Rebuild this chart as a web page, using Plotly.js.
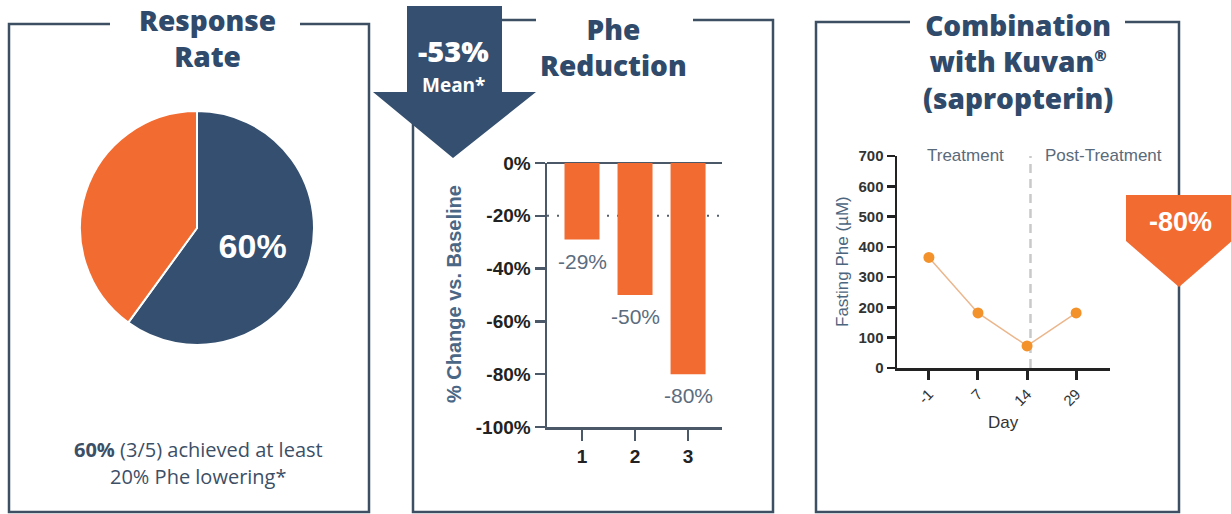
<!DOCTYPE html>
<html>
<head>
<meta charset="utf-8">
<script src="https://cdn.plot.ly/plotly-3.0.1.min.js"></script>
<style>html,body{margin:0;padding:0;background:#fff;}#chart{width:1231px;height:514px;}</style>
</head>
<body>
<div id="chart"></div>
<script>
// ---------- data ----------
const pieLabels = ['Achieved ≥20% Phe lowering', 'Did not achieve'];
const pieValues = [60, 40];
const pieText = ['60%', ''];

const barCategories = [1, 2, 3];
const barValues = [-29, -50, -80];
const barYTicks = [0, -20, -40, -60, -80, -100];
const barYTickText = ['0%', '-20%', '-40%', '-60%', '-80%', '-100%'];
const responseThreshold = -20;

const days = ['-1', '7', '14', '29'];
const fastingPhe = [365, 182, 73, 182];
const pheTicks = [0, 100, 200, 300, 400, 500, 600, 700];

// ---------- helpers ----------
const W = 1231, H = 514;
const fx = x => x / W;
const fy = y => 1 - y / H;
function pathOf(pts, close) {
  return pts.map((p, i) => (i ? 'L' : 'M') + fx(p[0]) + ',' + fy(p[1])).join(' ') + (close ? ' Z' : '');
}

const NAVY = '#344f6f';
const ORANGE = '#f26b31';
const TITLE = '#2f4a6a';
const BORDER = '#3d4f63';
const ARIAL = 'Liberation Sans, Arial, sans-serif';
const titleFont = {family: 'Open Sans, sans-serif', size: 28, color: TITLE, weight: 800};

function txt(x, y, text, font, extra) {
  return Object.assign({xref: 'paper', yref: 'paper', x: fx(x), y: fy(y), text: text,
    showarrow: false, xanchor: 'center', yanchor: 'middle', font: font}, extra || {});
}

// ---------- traces ----------
const pieTrace = {
  type: 'pie', labels: pieLabels, values: pieValues, text: pieText,
  textinfo: 'text', textposition: 'inside', insidetextorientation: 'horizontal',
  sort: false, direction: 'clockwise', rotation: 0,
  marker: {colors: [NAVY, ORANGE], line: {color: '#ffffff', width: 2}},
  textfont: {family: ARIAL, size: 34, color: '#ffffff', weight: 'bold'},
  domain: {x: [fx(197 - 117), fx(197 + 117)], y: [fy(345), fy(111)]},
  showlegend: false, hoverinfo: 'label+percent'
};

const barTrace = {
  type: 'bar', x: barCategories, y: barValues, width: 0.66,
  marker: {color: ORANGE}, xaxis: 'x', yaxis: 'y', showlegend: false
};

const lineTrace = {
  type: 'scatter', mode: 'lines+markers', x: days, y: fastingPhe,
  line: {color: '#ebb68c', width: 1.5},
  marker: {color: '#f3922b', size: 11},
  xaxis: 'x2', yaxis: 'y2', showlegend: false
};

// ---------- shapes ----------
const shapes = [
  // panel borders
  {type: 'path', xref: 'paper', yref: 'paper', layer: 'below',
   path: pathOf([[110, 24], [9, 24], [9, 512], [369, 512], [369, 24], [300, 24]]),
   line: {color: BORDER, width: 2.5}},
  {type: 'path', xref: 'paper', yref: 'paper', layer: 'below',
   path: pathOf([[536, 20], [500, 20]]), line: {color: BORDER, width: 2.5}},
  {type: 'path', xref: 'paper', yref: 'paper', layer: 'below',
   path: pathOf([[693, 20], [773, 20], [773, 512], [413, 512], [413, 100]]),
   line: {color: BORDER, width: 2.5}},
  {type: 'path', xref: 'paper', yref: 'paper', layer: 'below',
   path: pathOf([[910, 22], [816, 22], [816, 512], [1179, 512], [1179, 22], [1125, 22]]),
   line: {color: BORDER, width: 2.5}},
  // threshold dotted line
  {type: 'line', xref: 'x', yref: 'y', x0: 0.34, x1: 3.64, y0: responseThreshold, y1: responseThreshold,
   layer: 'below', line: {color: '#555f6a', width: 2, dash: '2px,8px'}},
  // treatment split line
  {type: 'line', xref: 'x2', yref: 'y2', x0: 2.07, x1: 2.07, y0: 0, y1: 700,
   layer: 'below', line: {color: '#c9c9c9', width: 2.5, dash: '9px,6px'}},
  // navy arrow
  {type: 'path', xref: 'paper', yref: 'paper', layer: 'above',
   path: pathOf([[407, 6], [502, 6], [502, 92], [536, 92], [453, 158], [373, 92], [407, 92]], true),
   fillcolor: NAVY, line: {width: 0}},
  // orange arrow
  {type: 'path', xref: 'paper', yref: 'paper', layer: 'above',
   path: pathOf([[1126, 195], [1232, 195], [1232, 241], [1179, 287], [1126, 241]], true),
   fillcolor: ORANGE, line: {width: 0}}
];

// ---------- annotations ----------
const barLabels = barCategories.map((c, i) => ({
  xref: 'x', yref: 'y', x: c, y: barValues[i], text: barValues[i] + '%',
  showarrow: false, xanchor: 'center', yanchor: 'top', yshift: -8,
  font: {family: ARIAL, size: 21, color: '#5b6c7e'}
}));

const annotations = barLabels.concat([
  txt(207, 38, 'Response<br>Rate', titleFont),
  txt(613, 47, 'Phe<br>Reduction', titleFont),
  txt(1018, 61, 'Combination<br>with Kuvan<sup><span style="font-size:15px">®</span></sup><br>(sapropterin)', titleFont),
  txt(198, 449, '<b>60%</b> (3/5) achieved at least', {family: 'Open Sans, sans-serif', size: 20, color: '#3c4f66'}),
  txt(198, 476, '20% Phe lowering*', {family: 'Open Sans, sans-serif', size: 20, color: '#3c4f66'}),
  txt(453, 51, '-53%', {family: 'Open Sans, sans-serif', size: 29, color: '#ffffff', weight: 800}),
  txt(453, 85, 'Mean*', {family: 'Open Sans, sans-serif', size: 19, color: '#ffffff', weight: 'bold'}),
  txt(1180, 222, '-80%', {family: ARIAL, size: 27, color: '#ffffff', weight: 'bold'}),
  txt(454, 294, '% Change vs. Baseline', {family: ARIAL, size: 20, color: '#4a6786', weight: 'bold'}, {textangle: -90}),
  txt(842, 262, 'Fasting Phe (µM)', {family: ARIAL, size: 17, color: '#4d6680'}, {textangle: -90}),
  txt(1003, 422, 'Day', {family: ARIAL, size: 17, color: '#333333'}),
  txt(965, 155, 'Treatment', {family: ARIAL, size: 17, color: '#5a6a7a'}),
  txt(1103, 155, 'Post-Treatment', {family: ARIAL, size: 17, color: '#5a6a7a'})
]);

const layout = {
  width: W, height: H, margin: {l: 0, r: 0, t: 0, b: 0},
  paper_bgcolor: '#ffffff', plot_bgcolor: 'rgba(0,0,0,0)',
  showlegend: false,
  xaxis: {domain: [fx(547), fx(722)], range: [0.34, 3.64], anchor: 'y',
    tickvals: barCategories, ticktext: barCategories.map(String),
    showgrid: false, zeroline: false, showline: true, linecolor: '#4a5868', linewidth: 2.5,
    ticks: 'outside', ticklen: 11, tickwidth: 2.5, tickcolor: '#4a5868',
    tickfont: {family: ARIAL, size: 19, color: '#222222', weight: 'bold'},
    fixedrange: true},
  yaxis: {domain: [fy(427), fy(163)], range: [-100, 0], anchor: 'x',
    tickvals: barYTicks, ticktext: barYTickText,
    showgrid: false, zeroline: true, zerolinecolor: '#4a5868', zerolinewidth: 2.5,
    showline: true, linecolor: '#4a5868', linewidth: 2.5,
    ticks: 'outside', ticklen: 10, tickwidth: 2.5, tickcolor: '#4a5868',
    tickfont: {family: ARIAL, size: 19, color: '#222222', weight: 'bold'},
    fixedrange: true},
  xaxis2: {domain: [fx(897), fx(1110)], range: [-0.65, 3.69], anchor: 'y2', type: 'category',
    showgrid: false, zeroline: false, showline: true, linecolor: '#222222', linewidth: 2.5,
    ticks: 'outside', ticklen: 9, tickwidth: 3, tickcolor: '#222222', tickangle: -45,
    tickfont: {family: ARIAL, size: 15, color: '#333333'},
    fixedrange: true},
  yaxis2: {domain: [fy(368), fy(156)], range: [0, 700], anchor: 'x2',
    tickvals: pheTicks,
    showgrid: false, zeroline: false, showline: true, linecolor: '#222222', linewidth: 2.5,
    ticks: 'outside', ticklen: 8, tickwidth: 2.5, tickcolor: '#222222',
    tickfont: {family: ARIAL, size: 15, color: '#333333', weight: 'bold'},
    fixedrange: true},
  shapes: shapes,
  annotations: annotations
};

Plotly.newPlot('chart', [pieTrace, barTrace, lineTrace], layout, {displayModeBar: false, staticPlot: true});
</script>
</body>
</html>
